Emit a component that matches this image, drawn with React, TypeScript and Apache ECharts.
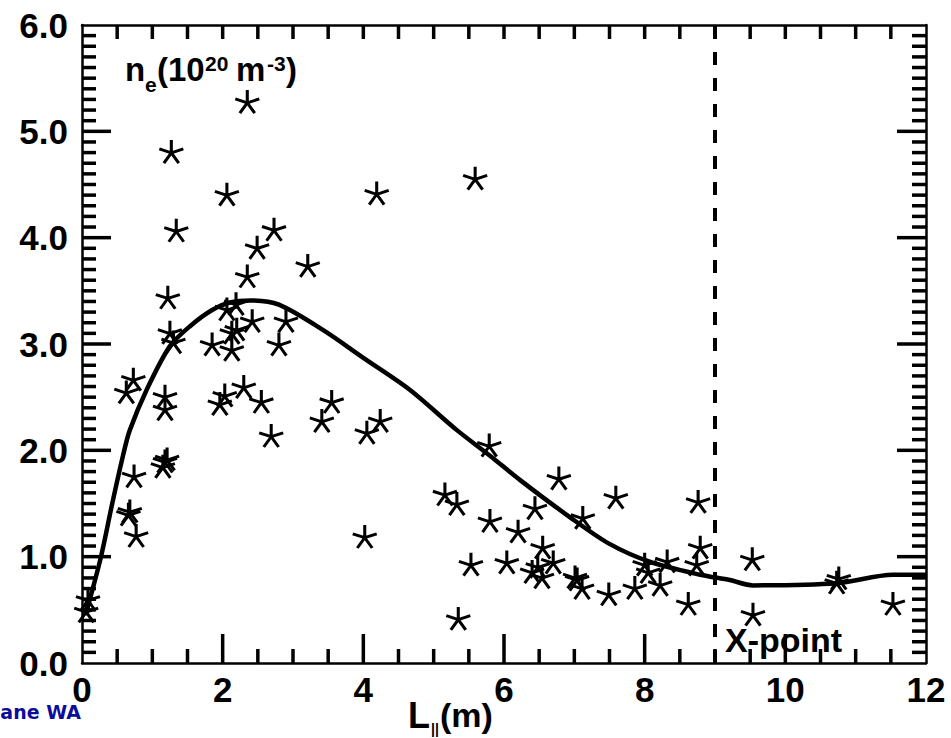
import React, { useEffect, useRef } from "react";
import * as echarts from "echarts";

// Smooth model curve (L_parallel in m, n_e in 1e20 m^-3)
const curveX = [0.05, 0.27, 0.43, 0.59, 0.68, 0.92, 1.25, 1.54, 1.85, 2.1, 2.4, 2.8, 3.43, 4.0, 4.66, 5.33, 5.8, 6.23, 6.94, 7.5, 8.08, 8.79, 9.21, 9.54, 10.73, 11.53, 12.0];
const curveY = [0.45, 1.0, 1.5, 1.97, 2.19, 2.57, 2.98, 3.17, 3.32, 3.39, 3.41, 3.37, 3.13, 2.87, 2.57, 2.19, 1.95, 1.72, 1.37, 1.12, 0.95, 0.83, 0.78, 0.73, 0.75, 0.83, 0.83];

// Measured points (stars)
const starX = [0.085, 0.06, 0.63, 0.73, 0.66, 0.68, 0.74, 0.77, 1.15, 1.18, 1.21, 1.18, 1.18, 1.22, 1.25, 1.3, 1.27, 1.34, 1.85, 1.96, 2.03, 2.06, 2.06, 2.19, 2.13, 2.13, 2.2, 2.3, 2.35, 2.35, 2.42, 2.49, 2.55, 2.69, 2.73, 2.8, 2.9, 3.21, 3.41, 3.55, 4.02, 4.05, 4.19, 4.24, 5.16, 5.33, 5.35, 5.53, 5.59, 5.79, 5.8, 6.04, 6.2, 6.4, 6.44, 6.48, 6.54, 6.55, 6.7, 6.78, 7.01, 7.04, 7.11, 7.12, 7.49, 7.59, 7.86, 8.0, 8.05, 8.22, 8.32, 8.62, 8.74, 8.76, 8.79, 9.53, 9.54, 10.73, 10.76, 11.53];
const starY = [0.59, 0.48, 2.54, 2.66, 1.39, 1.42, 1.75, 1.19, 1.84, 1.89, 1.91, 2.5, 2.38, 3.43, 3.1, 3.01, 4.8, 4.06, 2.99, 2.43, 2.51, 4.4, 3.32, 3.37, 2.94, 3.1, 3.13, 2.59, 3.63, 5.27, 3.21, 3.9, 2.45, 2.13, 4.07, 2.99, 3.21, 3.73, 2.27, 2.45, 1.18, 2.16, 4.41, 2.27, 1.58, 1.49, 0.41, 0.92, 4.55, 2.04, 1.33, 0.94, 1.23, 0.85, 1.45, 0.9, 0.8, 1.08, 0.94, 1.73, 0.8, 0.78, 0.7, 1.36, 0.64, 1.55, 0.7, 0.92, 0.85, 0.73, 0.95, 0.55, 0.92, 1.51, 1.08, 0.97, 0.45, 0.75, 0.79, 0.55];

// X-point separatrix position
const xPointX = [9, 9];
const xPointY = [0, 6];

// Axis ranges and tick steps
const X_MIN = 0, X_MAX = 12, X_MAJOR = 2, X_MINOR = 0.5;
const Y_MIN = 0, Y_MAX = 6, Y_MAJOR = 1, Y_MINOR = 0.1;

const FONT = "'Liberation Sans', Arial, sans-serif";
const STAR = "path://M0,-10 L0,0 M0,0 L9.5,-3.1 M0,0 L5.9,8.1 M0,0 L-5.9,8.1 M0,0 L-9.5,-3.1";

const isMajor = (v: number, step: number) => (Math.abs(v / step - Math.round(v / step)) < 1e-6 ? 1 : 0);

function xTicks(yAt: number, withMajor: boolean) {
  const out: number[][] = [];
  const n = Math.round((X_MAX - X_MIN) / X_MINOR);
  for (let i = 1; i < n; i++) {
    const v = X_MIN + i * X_MINOR;
    out.push([v, yAt, withMajor ? isMajor(v, X_MAJOR) : 0]);
  }
  return out;
}
function yTicks(xAt: number) {
  const out: number[][] = [];
  const n = Math.round((Y_MAX - Y_MIN) / Y_MINOR);
  for (let i = 1; i < n; i++) {
    const v = Y_MIN + i * Y_MINOR;
    out.push([xAt, v, isMajor(v, Y_MAJOR)]);
  }
  return out;
}

function tickSeries(data: number[][], dx: number, dy: number) {
  const W = 3.5;
  return {
    type: "custom",
    data,
    renderItem: (_params: any, api: any) => {
      const p = api.coord([api.value(0), api.value(1)]);
      const len = api.value(2) ? 29 : 14;
      let shape;
      if (dy !== 0) {
        shape = { x: p[0] - W / 2, y: dy < 0 ? p[1] - len : p[1], width: W, height: len };
      } else {
        shape = { x: dx > 0 ? p[0] : p[0] - len, y: p[1] - W / 2, width: len, height: W };
      }
      return { type: "rect", shape, style: { fill: "#000" } };
    },
  };
}

export default function App() {
  const ref = useRef<HTMLDivElement>(null);
  useEffect(() => {
    if (!ref.current) return;
    const chart = echarts.init(ref.current, null, { renderer: "svg" });
    const axisLine = { show: true, onZero: false, lineStyle: { color: "#000", width: 2.5 } };
    const labelStyle = { color: "#000", fontSize: 35, fontWeight: "bold" as const, fontFamily: FONT };
    const txt = (text: string, x: number, y: number, size: number) => ({
      type: "text",
      x,
      y,
      z: 100,
      style: { text, fill: "#000", font: `bold ${size}px ${FONT}`, verticalAlign: "middle", align: "left" },
    });
    chart.setOption({
      animation: false,
      backgroundColor: "#fff",
      grid: { left: 82, top: 25, right: 25, bottom: 75, containLabel: false },
      xAxis: [
        {
          type: "value", min: X_MIN, max: X_MAX, interval: X_MAJOR, position: "bottom",
          axisLine,
          axisTick: { show: false },
          splitLine: { show: false },
          axisLabel: { ...labelStyle, margin: 26, verticalAlign: "middle", formatter: (v: number) => String(v) },
        },
        {
          type: "value", min: X_MIN, max: X_MAX, interval: X_MAJOR, position: "top",
          axisLine,
          axisTick: { show: false },
          splitLine: { show: false },
          axisLabel: { show: false },
        },
      ],
      yAxis: [
        {
          type: "value", min: Y_MIN, max: Y_MAX, interval: Y_MAJOR, position: "left",
          axisLine,
          axisTick: { show: false },
          splitLine: { show: false },
          axisLabel: { ...labelStyle, margin: 14, formatter: (v: number) => v.toFixed(1) },
        },
        {
          type: "value", min: Y_MIN, max: Y_MAX, interval: Y_MAJOR, position: "right",
          axisLine,
          axisTick: { show: false },
          splitLine: { show: false },
          axisLabel: { show: false },
        },
      ],
      series: [
        tickSeries(xTicks(Y_MIN, true), 0, -1),
        tickSeries(xTicks(Y_MAX, false), 0, 1),
        tickSeries(yTicks(X_MIN), 1, 0),
        tickSeries(yTicks(X_MAX), -1, 0),
        {
          type: "line",
          data: curveX.map((x, i) => [x, curveY[i]]),
          showSymbol: false,
          symbol: "none",
          smooth: 0.3,
          lineStyle: { color: "#000", width: 4.5 },
        },
        {
          type: "scatter",
          data: starX.map((x, i) => [x, starY[i]]),
          symbol: STAR,
          symbolSize: [24, 23],
          symbolOffset: [0, -1],
          itemStyle: { color: "transparent", borderColor: "#000", borderWidth: 3, opacity: 1 },
        },
        {
          type: "line",
          data: xPointX.map((x, i) => [x, xPointY[i]]),
          symbol: "none",
          lineStyle: { color: "#000", width: 4, type: [13, 13] },
        },
      ],
      graphic: [
        txt("n", 125, 69, 33),
        txt("e", 145, 84, 21),
        txt("(10", 157, 69, 33),
        txt("20", 205, 63, 21),
        txt("m", 236, 69, 33),
        txt("-3", 267, 63, 21),
        txt(")", 286, 69, 33),
        txt("X-point", 725, 640, 34),
        txt("L", 408, 715, 36),
        txt("||", 431, 729, 14),
        txt("(m)", 440, 715, 34),
        {
          type: "text", x: 81, y: 712, z: 100,
          style: { text: "ane WA", fill: "#0c0c9a", font: "bold 19px 'DejaVu Sans', sans-serif", align: "right", verticalAlign: "middle" },
        },
      ],
    });
    return () => chart.dispose();
  }, []);
  return <div ref={ref} style={{ position: "absolute", left: 0, top: 0, width: 951, height: 738 }} />;
}
